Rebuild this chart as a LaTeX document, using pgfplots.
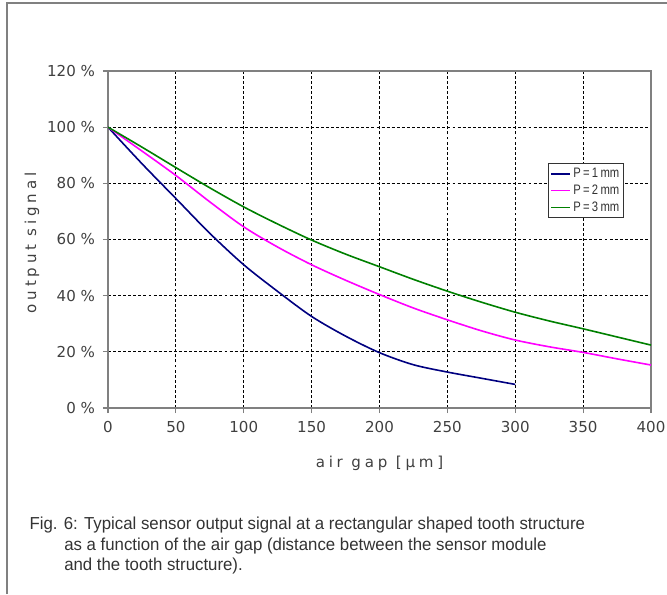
\documentclass[border=0pt]{standalone}
\usepackage{fontspec}
\setmainfont{Liberation Sans}
\newfontfamily\capfont[FakeStretch=0.97]{Liberation Sans}
\newfontfamily\legfont[FakeStretch=0.82]{Liberation Sans}
\newfontfamily\tickfont{DejaVu Sans}
\newfontfamily\spacedfont[LetterSpace=25]{DejaVu Sans}
\usepackage{pgfplots}
\pgfplotsset{compat=1.18}
\definecolor{navy}{RGB}{0,0,128}
\definecolor{mag}{RGB}{255,0,255}
\definecolor{grn}{RGB}{0,128,0}
\begin{document}
\begin{tikzpicture}
\useasboundingbox (0,0) rectangle (500.25pt,445.5pt);
\draw[gray, line width=1.1pt] (5.25pt,0) -- (5.25pt,443.25pt) -- (500.25pt,443.25pt);
\begin{axis}[
  at={(81pt,139.5pt)}, anchor=south west,
  width=407.25pt, height=252.75pt, scale only axis,
  xmin=0, xmax=400, ymin=0, ymax=120,
  xtick={0,50,...,400}, ytick={0,20,...,120},
  yticklabel={\pgfmathprintnumber{\tick} \%},
  /pgf/number format/assume math mode=true,
  grid=major,
  major grid style={black, line width=0.6pt, dash pattern=on 2.2pt off 1.6pt},
  axis line style={gray, line width=1.1pt},
  tick align=outside, xtick pos=bottom, ytick pos=left,
  major tick length=3.75pt, tick style={gray, line width=0.8pt},
  ticklabel style={font=\tickfont\fontsize{11.3}{13}\selectfont, text=black!75},
  yticklabel style={xshift=-2.5pt},
  xticklabel style={yshift=-2.5pt},
  xlabel={\spacedfont air gap [µm]},
  ylabel={\spacedfont output signal},
  label style={font=\fontsize{11.3}{13}\selectfont, text=black!75},
  xlabel style={at={(axis description cs:0.5,-0.165)}, anchor=center},
  ylabel style={at={(axis description cs:-0.14,0.49)}, anchor=center},
  legend style={at={(axis description cs:0.811,0.726)}, anchor=north west,
    draw=black!80, line width=0.6pt, font=\legfont\fontsize{10.3}{10.5}\selectfont,
    inner sep=1.2pt, row sep=0pt, legend cell align=left, text=black!80},
  legend image code/.code={\draw[#1, line width=1.2pt] (0pt,0pt) -- (14pt,0pt);},
]
\addplot[navy, line width=1.2pt, smooth] coordinates {
(0,100) (25,87) (50,74.6) (75,62.2) (100,51) (125,41.5) (150,32.6) (175,25.6) (200,19.7) (225,15.4) (250,12.8) (275,10.6) (300,8.4)};
\addlegendentry{P\,=\,1\,mm}
\addplot[mag, line width=1.2pt, smooth] coordinates {
(0,100) (25,91.5) (50,82.8) (75,73.4) (100,64.5) (125,57.3) (150,51) (175,45.5) (200,40.4) (225,35.6) (250,31.4) (275,27.5) (300,24.2) (325,21.8) (350,19.8) (375,17.5) (400,15.3)};
\addlegendentry{P\,=\,2\,mm}
\addplot[grn, line width=1.2pt, smooth] coordinates {
(0,100) (25,92.9) (50,85.6) (75,78.4) (100,71.6) (125,65.5) (150,59.8) (175,54.8) (200,50.3) (225,45.8) (250,41.6) (275,37.7) (300,34.1) (325,31) (350,28.2) (375,25.3) (400,22.4)};
\addlegendentry{P\,=\,3\,mm}
\end{axis}
\begin{scope}[every node/.style={font=\capfont\fontsize{13}{14}\selectfont, text=black!80, inner sep=0pt, anchor=base west}]
\node at (22pt,48.5pt) {Fig. 6: Typical sensor output signal at a rectangular shaped tooth structure};
\node at (48pt,33pt) {as a function of the air gap (distance between the sensor module};
\node at (48pt,17.5pt) {and the tooth structure).};
\end{scope}
\end{tikzpicture}
\end{document}
